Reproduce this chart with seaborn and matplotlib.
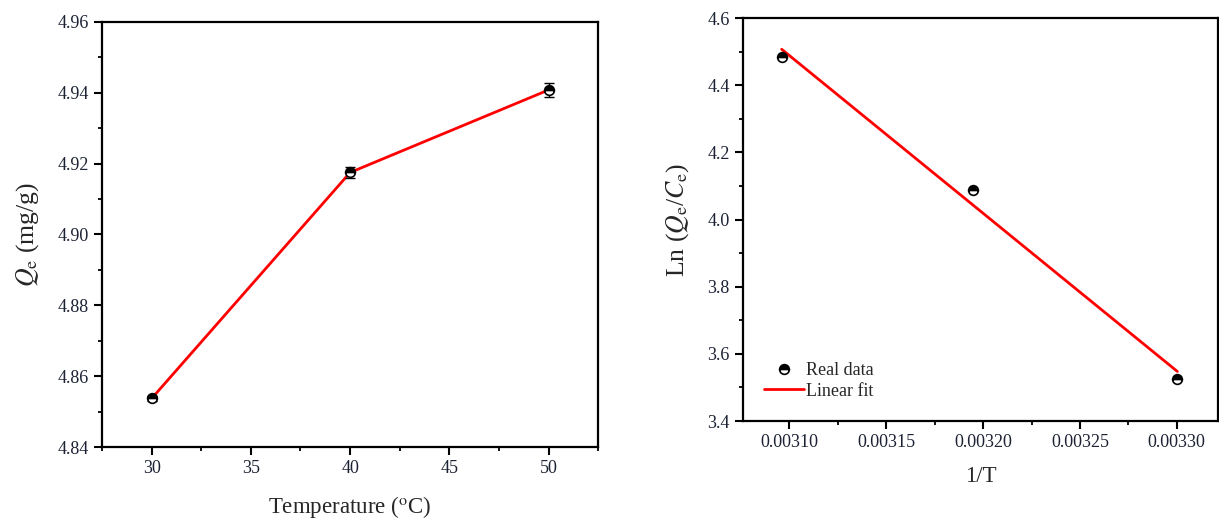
import numpy as np
import pandas as pd
import matplotlib
matplotlib.use("Agg")
import matplotlib.pyplot as plt
import seaborn as sns
from matplotlib.ticker import MultipleLocator, FormatStrFormatter
from matplotlib.lines import Line2D

# Equilibrium uptake vs temperature
temperature_c = [30, 40, 50]
qe_mg_g = [4.8537, 4.9175, 4.9408]
qe_err = [0.0008, 0.0015, 0.0020]

# Van't Hoff data (T in kelvin = °C + 273)
inv_t = [1 / 323, 1 / 313, 1 / 303]
ln_qe_ce = [4.483, 4.089, 3.525]

sns.set_theme(style="ticks")
plt.rcParams["font.family"] = ["Liberation Serif", "DejaVu Serif"]
plt.rcParams["mathtext.fontset"] = "stix"
plt.rcParams["xtick.direction"] = "out"
plt.rcParams["ytick.direction"] = "out"

fig = plt.figure(figsize=(12.19, 5.19), dpi=100)
ax1 = fig.add_axes([0.0837, 0.1387, 0.407, 0.819])
ax2 = fig.add_axes([0.6095, 0.1888, 0.390, 0.7765])

marker_kw = dict(marker="o", markersize=7, fillstyle="top",
                 markerfacecolor="black", markerfacecoloralt="white",
                 markeredgecolor="black", markeredgewidth=1.2)
tick_text = "#1c2233"

# Left panel
df1 = pd.DataFrame({"T": temperature_c, "Qe": qe_mg_g})
sns.lineplot(data=df1, x="T", y="Qe", ax=ax1, color="red", linewidth=2)
ax1.errorbar(temperature_c, qe_mg_g, yerr=qe_err, fmt="none", ecolor="black",
             elinewidth=1, capsize=3.5, capthick=1)
ax1.plot(temperature_c, qe_mg_g, linestyle="none", **marker_kw)
ax1.set_xlim(27.5, 52.5)
ax1.set_ylim(4.84, 4.96)
ax1.xaxis.set_major_locator(MultipleLocator(5))
ax1.xaxis.set_minor_locator(MultipleLocator(2.5))
ax1.yaxis.set_major_locator(MultipleLocator(0.02))
ax1.yaxis.set_minor_locator(MultipleLocator(0.01))
ax1.yaxis.set_major_formatter(FormatStrFormatter("%.2f"))
ax1.set_xlabel("Temperature ($^\\mathrm{o}$C)", fontsize=16.5, labelpad=12)
ax1.set_ylabel("$Q_\\mathrm{e}$ (mg/g)", fontsize=18.5, labelpad=12)

# Right panel
df2 = pd.DataFrame({"x": inv_t, "y": ln_qe_ce})
sns.regplot(data=df2, x="x", y="y", ax=ax2, scatter=False, ci=None,
            truncate=True, line_kws=dict(color="red", linewidth=2))
ax2.plot(inv_t, ln_qe_ce, linestyle="none", **marker_kw)
ax2.set_xlim(0.003076, 0.0033215)
ax2.set_ylim(3.4, 4.6)
ax2.xaxis.set_major_locator(MultipleLocator(0.00005))
ax2.xaxis.set_minor_locator(MultipleLocator(0.000025))
ax2.xaxis.set_major_formatter(FormatStrFormatter("%.5f"))
ax2.yaxis.set_major_locator(MultipleLocator(0.2))
ax2.yaxis.set_minor_locator(MultipleLocator(0.1))
ax2.yaxis.set_major_formatter(FormatStrFormatter("%.1f"))
ax2.set_xlabel("1/T", fontsize=16.5, labelpad=11)
ax2.set_ylabel("Ln ($Q_\\mathrm{e}$/$C_\\mathrm{e}$)", fontsize=18.5, labelpad=12)

handles = [Line2D([], [], linestyle="none", **marker_kw),
           Line2D([], [], color="red", linewidth=2)]
ax2.legend(handles, ["Real data", "Linear fit"], loc="lower left",
           bbox_to_anchor=(0.03, 0.035), borderaxespad=0, frameon=False,
           fontsize=13, handlelength=2.2, handletextpad=0.1, labelspacing=0.2)

for ax in (ax1, ax2):
    for s in ax.spines.values():
        s.set_visible(True)
        s.set_linewidth(1.6)
        s.set_color("black")
    ax.tick_params(which="major", length=5.5, width=1.5, labelsize=13,
                   colors="black", labelcolor=tick_text, pad=4)
    ax.tick_params(which="minor", length=3, width=1.3, colors="black")
    ax.tick_params(top=False, right=False)

fig.savefig("out.png", dpi=100, facecolor="white")
